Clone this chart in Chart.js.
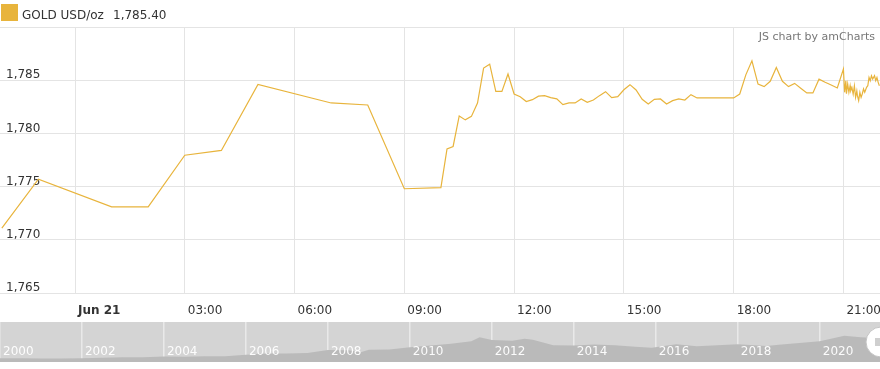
<!DOCTYPE html>
<html>
<head>
<meta charset="utf-8">
<script src="https://cdn.jsdelivr.net/npm/chart.js@4.4.0/dist/chart.umd.min.js"></script>
<style>
  html, body { margin: 0; padding: 0; background: #fff; }
  body { width: 880px; height: 369px; position: relative; overflow: hidden; font-family: "DejaVu Sans", Verdana, sans-serif; }
  #mainBox { position: absolute; left: 0; top: 0; width: 880px; height: 322px; }
  #navBox { position: absolute; left: 0; top: 322px; width: 880px; height: 40px; }
  .swatch { position: absolute; left: 1px; top: 4px; width: 17px; height: 17px; background: #e8b43c; }
  .legend-text { position: absolute; top: 8px; font-size: 12px; line-height: 14px; color: #333; white-space: nowrap; }
  .credit { position: absolute; right: 5px; top: 30px; font-size: 11px; line-height: 13px; color: #777; }
</style>
</head>
<body>
<div id="mainBox"><canvas id="mainChart"></canvas></div>
<div id="navBox"><canvas id="navChart"></canvas></div>
<div class="swatch"></div>
<div class="legend-text" id="legendName" style="left:22px"></div>
<div class="legend-text" id="legendValue" style="left:113px"></div>
<div class="credit">JS chart by amCharts</div>
<script>
// gold spot, Jun 20 22:00 -> Jun 21 22:00 (day + time)
const seriesName = 'GOLD USD/oz';
const lastPrice = 1785.40;

const times = [
  '20 22:00', '20 23:00', '21 01:00', '21 02:00', '21 03:00', '21 04:00', '21 05:00', '21 07:00', '21 08:00', '21 09:00',
  '21 10:00', '21 10:10', '21 10:20', '21 10:30', '21 10:40', '21 10:50', '21 11:00', '21 11:10', '21 11:20', '21 11:30',
  '21 11:40', '21 11:50', '21 12:00', '21 12:10', '21 12:20', '21 12:30', '21 12:40', '21 12:50', '21 13:00', '21 13:10',
  '21 13:20', '21 13:30', '21 13:40', '21 13:50', '21 14:00', '21 14:10', '21 14:20', '21 14:30', '21 14:40', '21 14:50',
  '21 15:00', '21 15:10', '21 15:20', '21 15:30', '21 15:40', '21 15:50', '21 16:00', '21 16:10', '21 16:20', '21 16:30',
  '21 16:40', '21 16:50', '21 17:00', '21 18:00', '21 18:10', '21 18:20', '21 18:30', '21 18:40', '21 18:50', '21 19:00',
  '21 19:10', '21 19:20', '21 19:30', '21 19:40', '21 19:50', '21 20:00', '21 20:10', '21 20:20', '21 20:30', '21 20:40',
  '21 20:50', '21 21:00', '21 21:02', '21 21:04', '21 21:05', '21 21:07', '21 21:09', '21 21:11', '21 21:12', '21 21:14',
  '21 21:16', '21 21:18', '21 21:20', '21 21:22', '21 21:23', '21 21:25', '21 21:27', '21 21:29', '21 21:31', '21 21:33',
  '21 21:35', '21 21:38', '21 21:40', '21 21:42', '21 21:44', '21 21:46', '21 21:48', '21 21:51', '21 21:53', '21 21:55',
  '21 21:57', '21 21:59'
];
const prices = [
  1771.1, 1775.7, 1773.1, 1773.1, 1777.95, 1778.4, 1784.6, 1782.86, 1782.67, 1774.8,
  1774.9, 1778.55, 1778.77, 1781.64, 1781.27, 1781.6, 1782.85, 1786.14, 1786.5, 1783.95,
  1783.95, 1785.58, 1783.7, 1783.45, 1783.0, 1783.17, 1783.5, 1783.55, 1783.36, 1783.24,
  1782.7, 1782.86, 1782.86, 1783.24, 1782.92, 1783.14, 1783.55, 1783.92, 1783.36, 1783.45,
  1784.1, 1784.58, 1784.08, 1783.2, 1782.77, 1783.2, 1783.24, 1782.77, 1783.08, 1783.24,
  1783.14, 1783.64, 1783.33, 1783.33, 1783.7, 1785.5, 1786.83, 1784.64, 1784.4, 1784.9,
  1786.2, 1784.9, 1784.4, 1784.7, 1784.25, 1783.8, 1783.8, 1785.1, 1784.8, 1784.55,
  1784.27, 1786.05, 1783.86, 1784.95, 1783.73, 1784.64, 1783.86, 1784.48, 1784.0, 1784.3,
  1783.7, 1784.48, 1783.39, 1784.0, 1783.55, 1783.08, 1783.86, 1783.39, 1783.73, 1784.18,
  1783.86, 1784.33, 1784.48, 1785.26, 1784.95, 1785.42, 1785.11, 1785.42, 1784.95, 1785.26,
  1784.8, 1784.48
];

// x axis ticks, hours from Jun 21 00:00
const tickHours = [0, 3, 6, 9, 12, 15, 18, 21];
const tickLabels = ['Jun 21', '03:00', '06:00', '09:00', '12:00', '15:00', '18:00', '21:00'];
const yTicks = [1765, 1770, 1775, 1780, 1785, 1790];

// long term history shown in the scrollbar
const navYears = [
  2000, 2000.5, 2001, 2001.5, 2002, 2002.5, 2003, 2003.5, 2004, 2004.5,
  2005, 2005.5, 2006, 2006.5, 2007, 2007.5, 2008, 2008.5, 2008.8, 2009,
  2009.5, 2010, 2010.5, 2011, 2011.5, 2011.7, 2012, 2012.5, 2012.8, 2013,
  2013.5, 2014, 2014.5, 2015, 2015.5, 2015.9, 2016.5, 2017, 2017.5, 2018,
  2018.7, 2019, 2019.5, 2020, 2020.6, 2021, 2021.47
];
const navPrices = [
  285, 285, 265, 270, 282, 315, 355, 350, 410, 395,
  425, 435, 550, 630, 640, 680, 900, 880, 740, 920,
  940, 1100, 1230, 1360, 1550, 1850, 1650, 1600, 1750, 1660,
  1250, 1240, 1320, 1250, 1150, 1060, 1340, 1190, 1250, 1330,
  1200, 1290, 1420, 1560, 1970, 1850, 1780
];
const navTickYears = [2000, 2002, 2004, 2006, 2008, 2010, 2012, 2014, 2016, 2018, 2020];

const goldColor = '#e8b43c';
const gridColor = '#e4e4e4';
const fontFamily = '"DejaVu Sans", Verdana, sans-serif';

function toHours(s) {
  const [d, hm] = s.split(' ');
  const [h, m] = hm.split(':').map(Number);
  return (Number(d) - 21) * 24 + h + m / 60;
}

document.getElementById('legendName').textContent = seriesName;
document.getElementById('legendValue').textContent =
  lastPrice.toLocaleString('en-US', { minimumFractionDigits: 2, maximumFractionDigits: 2 });

const noPad = s => { s.paddingLeft = 0; s.paddingRight = 0; s.paddingTop = 0; s.paddingBottom = 0; };

new Chart(document.getElementById('mainChart'), {
  type: 'line',
  data: {
    datasets: [{
      label: seriesName,
      data: times.map((t, i) => ({ x: toHours(t), y: prices[i] })),
      borderColor: goldColor,
      borderWidth: 1.2,
      pointRadius: 0,
      tension: 0,
      fill: false
    }]
  },
  options: {
    animation: false,
    responsive: true,
    maintainAspectRatio: false,
    layout: { padding: { top: 27, bottom: 0, left: 0, right: 0 } },
    plugins: { legend: { display: false }, tooltip: { enabled: false } },
    scales: {
      x: {
        type: 'linear',
        min: -2.05,
        max: 22.0,
        afterBuildTicks: s => { s.ticks = tickHours.map(v => ({ value: v })); },
        afterFit: s => { noPad(s); s.height = 29; },
        grid: { color: gridColor, drawTicks: false },
        border: { display: false },
        ticks: {
          align: 'start',
          labelOffset: 3,
          padding: 11,
          maxRotation: 0,
          autoSkip: false,
          color: '#333',
          font: c => ({ family: fontFamily, size: 12, weight: c.tick && c.tick.value === 0 ? 'bold' : 'normal' }),
          callback: (v, i) => tickLabels[i]
        }
      },
      y: {
        min: 1765,
        max: 1790,
        afterBuildTicks: s => { s.ticks = yTicks.map(v => ({ value: v })); },
        afterFit: s => { noPad(s); s.width = 0; },
        grid: { color: gridColor, drawTicks: false },
        border: { display: false },
        ticks: {
          mirror: true,
          padding: 6,
          labelOffset: -5,
          color: '#333',
          font: { family: fontFamily, size: 12 },
          callback: v => v === 1790 ? '' : v.toLocaleString('en-US')
        }
      }
    }
  }
});

// scrollbar background, year labels and grip
const navDecor = {
  id: 'navDecor',
  beforeDraw(chart) {
    const { ctx, chartArea: a } = chart;
    ctx.save();
    ctx.fillStyle = '#d4d4d4';
    ctx.fillRect(a.left, a.top, a.right - a.left, a.bottom - a.top);
    ctx.restore();
  },
  afterDraw(chart) {
    const { ctx } = chart;
    const xs = chart.scales.x;
    ctx.save();
    ctx.font = '12px ' + fontFamily;
    ctx.fillStyle = 'rgba(255,255,255,0.95)';
    ctx.textBaseline = 'middle';
    navTickYears.forEach(y => {
      ctx.fillText(String(y), xs.getPixelForValue(y) + 3, 30);
    });
    // right grip
    ctx.beginPath();
    ctx.arc(881, 20, 15, 0, Math.PI * 2);
    ctx.fillStyle = '#ffffff';
    ctx.fill();
    ctx.strokeStyle = '#c4c4c4';
    ctx.lineWidth = 1;
    ctx.stroke();
    ctx.fillStyle = '#cfcfcf';
    ctx.fillRect(875, 16, 5, 8);
    ctx.restore();
  }
};

new Chart(document.getElementById('navChart'), {
  type: 'line',
  data: {
    datasets: [{
      data: navYears.map((y, i) => ({ x: y, y: navPrices[i] })),
      fill: 'origin',
      backgroundColor: '#bababa',
      borderWidth: 0,
      pointRadius: 0,
      tension: 0
    }]
  },
  options: {
    animation: false,
    responsive: true,
    maintainAspectRatio: false,
    layout: { padding: 0 },
    plugins: { legend: { display: false }, tooltip: { enabled: false } },
    scales: {
      x: {
        type: 'linear',
        min: 2000,
        max: 2021.47,
        z: 1,
        afterBuildTicks: s => { s.ticks = navTickYears.map(v => ({ value: v })); },
        afterFit: noPad,
        grid: { color: '#e9e9e9', lineWidth: 1.5, drawTicks: false },
        border: { display: false },
        ticks: { display: false }
      },
      y: { display: false, min: 0, max: 3000 }
    }
  },
  plugins: [navDecor]
});
</script>
</body>
</html>
